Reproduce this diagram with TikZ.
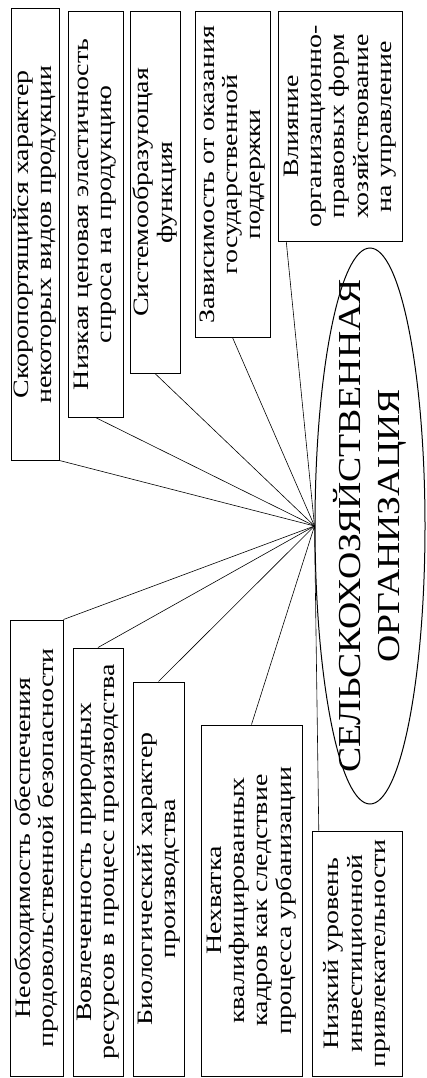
\documentclass[tikz,border=0pt]{standalone}
\usepackage{fontspec}
\setmainfont{Liberation Serif}[FakeStretch=1.27]
\newfontfamily\ovalfont{Liberation Serif}[FakeStretch=1.18]
\usepackage{tikz}
\usetikzlibrary{shapes.geometric,calc}
\tikzstyle{every picture}=[x=1pt,y=-1pt]
\tikzstyle{kasten}=[draw,line width=1pt,rotate=90,inner sep=0pt,align=center,font=\fontsize{22}{23.3}\selectfont]
\tikzstyle{verbindung}=[line width=0.6pt]

\begin{document}
\begin{tikzpicture}
			\useasboundingbox (0,0) rectangle (426,1078);
			% Ellipse zeichnen
			\node[draw,ellipse,line width=1pt,minimum width=110pt,minimum height=556pt,inner sep=0pt] (org) at (370,526) {};
			\node[rotate=90,align=center,font=\ovalfont\fontsize{32}{39}\selectfont] (orgtext) at (org.center) {СЕЛЬСКОХОЗЯЙСТВЕННАЯ\\ОРГАНИЗАЦИЯ};
			% Kaesten oben
			\node[kasten,minimum width=451pt,minimum height=48pt] (a) at (35,234.5) {Скоропортящийся характер\\некоторых видов продукции};
			\node[kasten,minimum width=405pt,minimum height=55pt] (b) at (95.5,214.5) {Низкая ценовая эластичность\\спроса на продукцию};
			\node[kasten,minimum width=361pt,minimum height=50pt] (c) at (155,192.5) {Системообразующая\\функция};
			\node[kasten,minimum width=325pt,minimum height=75pt] (d) at (232.5,174.5) {Зависимость от оказания\\государственной\\поддержки};
			\node[kasten,minimum width=229pt,minimum height=124pt] (e) at (340,126.5) {Влияние\\организационно-\\правовых форм\\хозяйствование\\на управление};
			% Kaesten unten
			\node[kasten,minimum width=456pt,minimum height=53pt] (f) at (36.5,848) {Необходимость обеспечения\\продовольственной безопасности};
			\node[kasten,minimum width=428pt,minimum height=50pt] (g) at (98,862) {Вовлеченность природных\\ресурсов в процесс производства};
			\node[kasten,minimum width=394pt,minimum height=51pt] (h) at (158.5,879) {Биологический характер\\производства};
			\node[kasten,minimum width=351pt,minimum height=101pt] (i) at (251.5,900.5) {Нехватка\\квалифицированных\\кадров как следствие\\процесса урбанизации};
			\node[kasten,minimum width=245pt,minimum height=90pt] (j) at (357,953.5) {Низкий уровень\\инвестиционной\\привлекательности};
			% Verbindungen zeichnen
			\draw[verbindung] (org.west) -- (a.south west);
			\foreach \k in {b,c,d}
				\draw[verbindung] (org.west) -- (\k.west);
			\draw[verbindung] (org.west) -- ($(e.north west)!0.07!(e.south west)$);
			\draw[verbindung] (org.west) -- (f.south east);
			\foreach \k in {g,h,i}
				\draw[verbindung] (org.west) -- (\k.east);
			\draw[verbindung] (org.west) -- ($(j.north east)!0.08!(j.south east)$);
		\end{tikzpicture}
\end{document}
